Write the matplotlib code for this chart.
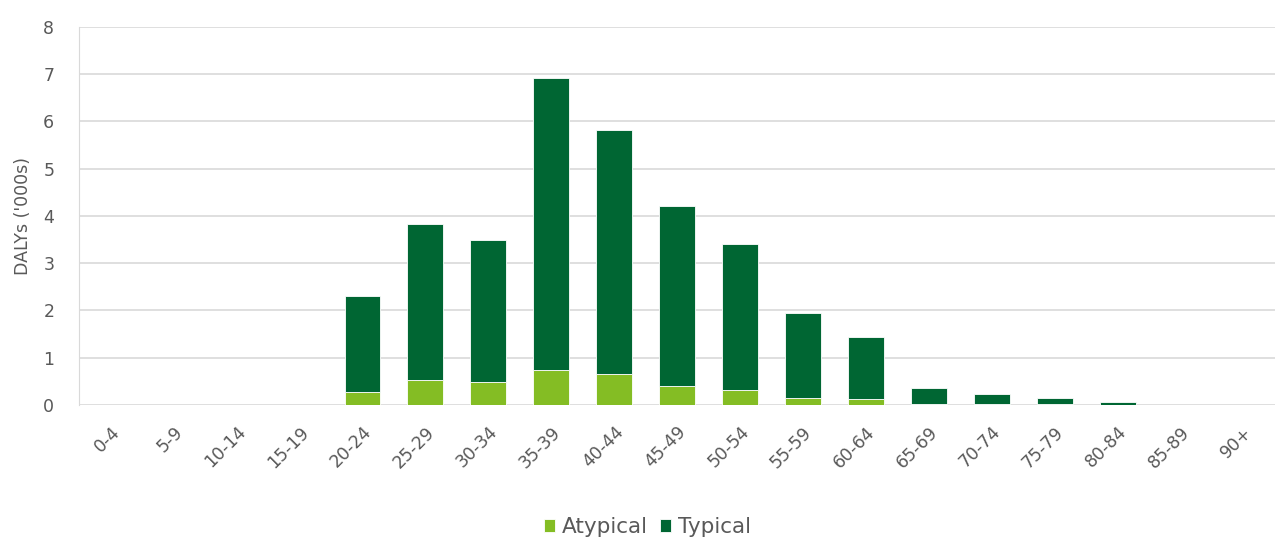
import numpy as np
import matplotlib.pyplot as plt

plt.rcParams['font.family'] = ['DejaVu Sans']

age_groups = ['0-4', '5-9', '10-14', '15-19', '20-24', '25-29', '30-34', '35-39',
              '40-44', '45-49', '50-54', '55-59', '60-64', '65-69', '70-74',
              '75-79', '80-84', '85-89', '90+']
atypical = [0, 0, 0, 0, 0.28, 0.53, 0.49, 0.74, 0.66, 0.40, 0.32, 0.15, 0.12,
            0.02, 0.01, 0.01, 0.0, 0, 0]
total = [0, 0, 0, 0, 2.31, 3.83, 3.49, 6.92, 5.82, 4.21, 3.41, 1.95, 1.44,
         0.36, 0.23, 0.15, 0.06, 0, 0]
typical = [t - a for t, a in zip(total, atypical)]

grey = '#595959'
fig = plt.figure(figsize=(12.8, 5.37), dpi=100)
ax = fig.add_axes([0.062, 0.246, 0.934, 0.704])

x = np.arange(len(age_groups))
ax.bar(x, atypical, width=0.57, color='#84bd24', edgecolor='white', linewidth=0.6,
       label='Atypical', zorder=3)
ax.bar(x, typical, width=0.57, bottom=atypical, color='#006633', edgecolor='white',
       linewidth=0.6, label='Typical', zorder=3)

ax.set_xlim(-0.5, len(age_groups) - 0.5)
ax.set_ylim(0, 8)
ax.set_yticks(range(0, 9))
ax.set_xticks(x)
ax.set_xticklabels(age_groups, rotation=45, ha='right', rotation_mode='anchor')
ax.tick_params(axis='both', length=0, colors=grey, labelsize=12.5)
ax.tick_params(axis='x', pad=13)
ax.tick_params(axis='y', pad=22)
for lbl in ax.get_yticklabels():
    lbl.set_horizontalalignment('center')
ax.set_ylabel("DALYs ('000s)", color=grey, fontsize=12.5, labelpad=8)

ax.grid(axis='y', color='#d9d9d9', linewidth=1.2, zorder=0)
for s in ['top', 'right', 'bottom']:
    ax.spines[s].set_visible(False)
ax.spines['left'].set_color('#d9d9d9')

ax.legend(loc='center', bbox_to_anchor=(0.475, -0.323), ncol=2, frameon=False,
          fontsize=15.5, labelcolor=grey, handlelength=0.55, handleheight=0.55,
          handletextpad=0.3, columnspacing=0.55)

plt.savefig('out.png', dpi=100)
